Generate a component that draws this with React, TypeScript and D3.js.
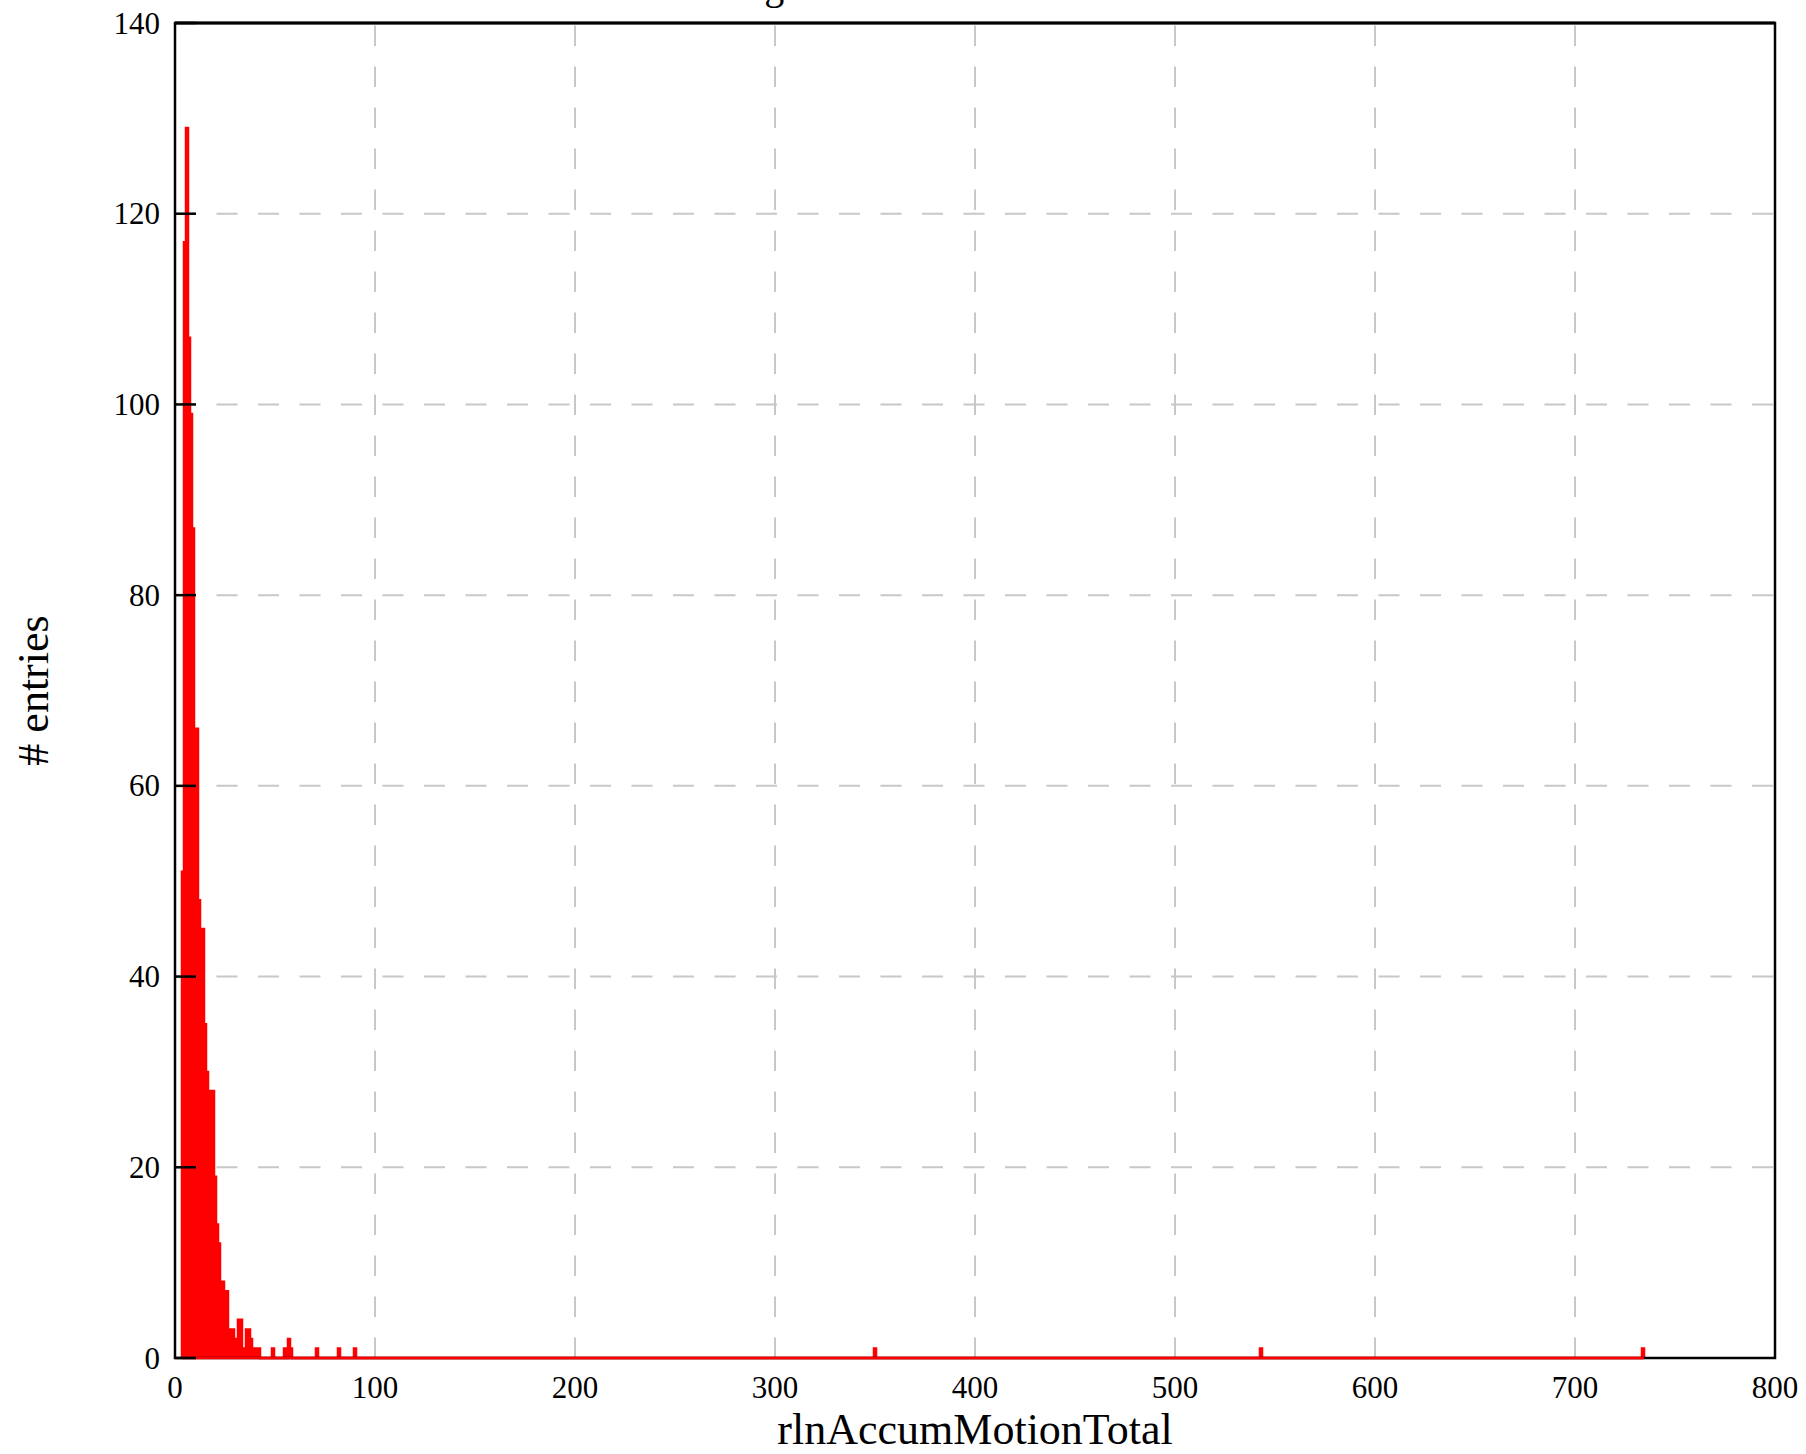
import React from 'react';
import * as d3 from 'd3';

// ---- data ----
const titleText = 'Histogram for rlnAccumMotionTotal';
const xLabel = 'rlnAccumMotionTotal';
const yLabel = '# entries';
const xTicks = [0, 100, 200, 300, 400, 500, 600, 700, 800];
const yTicks = [0, 20, 40, 60, 80, 100, 120, 140];

const BIN_START = 3.5;
const BIN_WIDTH = 1;
// consecutive bins starting at BIN_START
const denseCounts = [
  51, 117, 129, 107, 99, 87, 66, 66, 48, 44, 45, 35, 30, 19, 28, 28, 19, 14, 12,
  8, 8, 7, 7, 3, 3, 3, 2, 2, 4, 4, 1, 1, 3, 3, 2, 1, 1, 1, 1,
];
// isolated bins in the tail (left edge, count)
const outlierLefts = [48.5, 54.5, 56.5, 57.5, 70.5, 81.5, 89.5, 349.5, 542.5, 733.5];
const outlierCounts = [1, 1, 2, 1, 1, 1, 1, 1, 1, 1];

// ---- layout ----
const W = 1806;
const H = 1454;
const M = { left: 175, top: 23, right: 31, bottom: 96 };

export default function App() {
  const x = d3.scaleLinear().domain([0, 800]).range([M.left, W - M.right]);
  const y = d3.scaleLinear().domain([0, 140]).range([H - M.bottom, M.top]);

  // build bins
  const lastIdx = Math.round((outlierLefts[outlierLefts.length - 1] - BIN_START) / BIN_WIDTH);
  const nBins = Math.max(denseCounts.length, lastIdx + 1);
  const counts: number[] = new Array(nBins).fill(0);
  denseCounts.forEach((c, i) => (counts[i] = c));
  outlierLefts.forEach((l, j) => {
    const i = Math.round((l - BIN_START) / BIN_WIDTH);
    counts[i] = outlierCounts[j];
  });

  const pts: [number, number][] = [[BIN_START, 0]];
  counts.forEach((c, i) => {
    const l = BIN_START + i * BIN_WIDTH;
    pts.push([l, c]);
    pts.push([l + BIN_WIDTH, c]);
  });
  pts.push([BIN_START + nBins * BIN_WIDTH, 0]);
  const line = d3
    .line<[number, number]>()
    .x((d) => x(d[0]))
    .y((d) => y(d[1]));
  const pathD = line(pts) || '';

  const x0 = x(0);
  const x1 = x(800);
  const y0 = y(0);
  const y1 = y(140);
  const font = '"Liberation Serif", "DejaVu Serif", serif';
  const gridColor = '#c8c8c8';

  return (
    <svg
      width={W}
      height={H}
      style={{ position: 'absolute', left: 0, top: 0, background: '#fff' }}
      fontFamily={font}
    >
      <rect x={0} y={0} width={W} height={H} fill="#fff" />
      {/* grid */}
      {yTicks
        .filter((t) => t > 0 && t < 140)
        .map((t) => (
          <line
            key={'gy' + t}
            x1={x0}
            x2={x1}
            y1={y(t)}
            y2={y(t)}
            stroke={gridColor}
            strokeWidth={2}
            strokeDasharray="21 20.5"
          />
        ))}
      {xTicks
        .filter((t) => t > 0 && t < 800)
        .map((t) => (
          <line
            key={'gx' + t}
            x1={x(t)}
            x2={x(t)}
            y1={y0}
            y2={y1}
            stroke={gridColor}
            strokeWidth={2}
            strokeDasharray="20.5 20.5"
          />
        ))}
      {/* histogram */}
      <path d={pathD} fill="#ff0000" stroke="#ff0000" strokeWidth={2.5} strokeLinejoin="miter" />
      {/* frame */}
      <rect x={x0} y={y1} width={x1 - x0} height={y0 - y1} fill="none" stroke="#000" strokeWidth={2.5} />
      <line x1={x0} x2={x1} y1={y1} y2={y1} stroke="#000" strokeWidth={3} />
      {/* redraw zero line of histogram over the frame */}
      <line
        x1={x(BIN_START)}
        x2={x(BIN_START + nBins * BIN_WIDTH)}
        y1={y0}
        y2={y0}
        stroke="#ff0000"
        strokeWidth={2.5}
      />
      {/* y ticks */}
      {yTicks.map((t) => (
        <g key={'yt' + t}>
          <line x1={x0} x2={x0 + 21} y1={y(t)} y2={y(t)} stroke="#000" strokeWidth={2.5} />
          <text x={160} y={y(t) + 10.5} fontSize={31} textAnchor="end" fill="#000">
            {t}
          </text>
        </g>
      ))}
      {/* x tick labels */}
      {xTicks.map((t) => (
        <text key={'xt' + t} x={x(t)} y={1398} fontSize={31} textAnchor="middle" fill="#000">
          {t}
        </text>
      ))}
      {/* labels */}
      <text x={(x0 + x1) / 2} y={1444} fontSize={44} textAnchor="middle" fill="#000">
        {xLabel}
      </text>
      <text
        transform={`translate(48,${(y0 + y1) / 2}) rotate(-90)`}
        fontSize={44}
        textAnchor="middle"
        fill="#000"
      >
        {yLabel}
      </text>
      <text x={(x0 + x1) / 2} y={-1} fontSize={40} textAnchor="middle" fill="#000">
        {titleText}
      </text>
    </svg>
  );
}
